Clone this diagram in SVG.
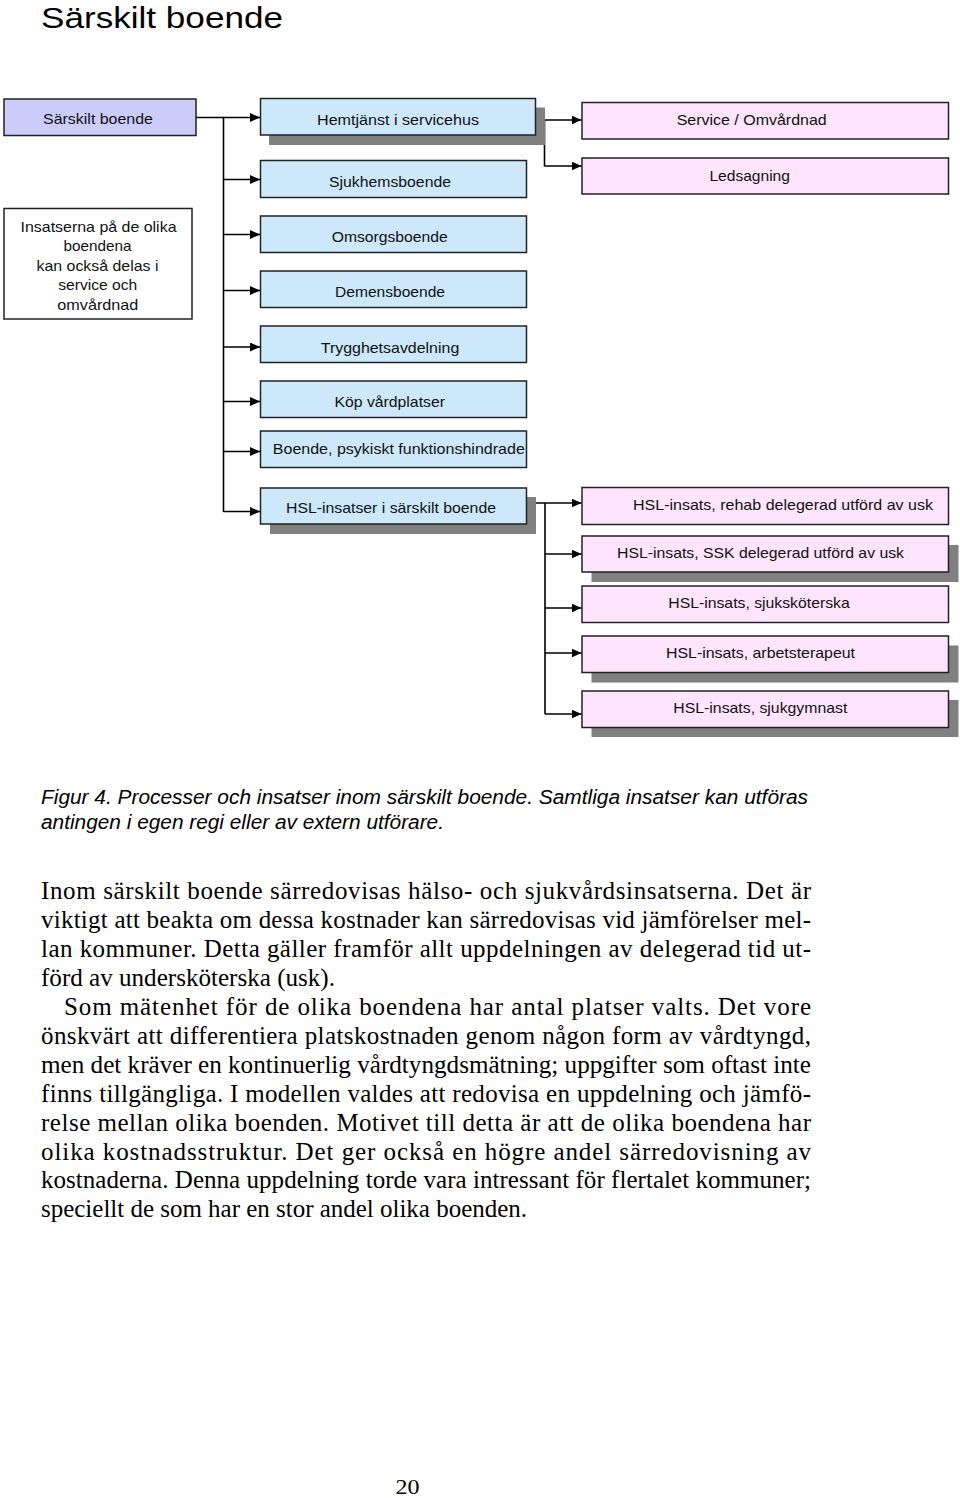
<svg xmlns="http://www.w3.org/2000/svg" width="960" height="1498" viewBox="0 0 960 1498">
<style>
.bg{fill:#ffffff}
.box{stroke:#222;stroke-width:1.5}
.lav{fill:#ccccfb}
.blue{fill:#cce8fa}
.pink{fill:#ffe4fd}
.white{fill:#ffffff}
.sh{fill:#808080}
.lbl{font-family:"Liberation Sans",Arial,sans-serif;font-size:15px;fill:#111;text-anchor:middle}
.con{fill:none;stroke:#000;stroke-width:1.6}
.title{font-family:"Liberation Sans",Arial,sans-serif;font-size:30px;fill:#000}
.cap{font-family:"Liberation Sans",Arial,sans-serif;font-size:20px;font-style:italic;fill:#000}
.body{font-family:"Liberation Serif","Times New Roman",serif;font-size:25px;fill:#000}
</style>
<defs>
<marker id="arr" markerUnits="userSpaceOnUse" markerWidth="11" markerHeight="9" refX="10" refY="4.5" orient="auto">
<path d="M0,0 L10,4.5 L0,9 z" fill="#000"/>
</marker>
</defs>
<rect class="bg" x="0" y="0" width="960" height="1498"/>
<text class="title" x="41" y="28" textLength="242" lengthAdjust="spacingAndGlyphs">Särskilt boende</text>

<g id="connectors">
<path class="con" d="M196,117.5 H223.5 V512"/>
<line class="con" x1="223.5" y1="117.5" x2="260" y2="117.5" marker-end="url(#arr)"/>
<line class="con" x1="223.5" y1="179.5" x2="260" y2="179.5" marker-end="url(#arr)"/>
<line class="con" x1="223.5" y1="234.5" x2="260" y2="234.5" marker-end="url(#arr)"/>
<line class="con" x1="223.5" y1="290.5" x2="260" y2="290.5" marker-end="url(#arr)"/>
<line class="con" x1="223.5" y1="347" x2="260" y2="347" marker-end="url(#arr)"/>
<line class="con" x1="223.5" y1="401.5" x2="260" y2="401.5" marker-end="url(#arr)"/>
<line class="con" x1="223.5" y1="451.5" x2="260" y2="451.5" marker-end="url(#arr)"/>
<line class="con" x1="223.5" y1="511.5" x2="260" y2="511.5" marker-end="url(#arr)"/>
<line class="con" x1="536" y1="120" x2="581.5" y2="120" marker-end="url(#arr)"/>
<path class="con" d="M544.5,120 V166 H581.5" marker-end="url(#arr)"/>
<line class="con" x1="526" y1="503" x2="581.5" y2="503" marker-end="url(#arr)"/>
<path class="con" d="M545,503 V714"/>
<line class="con" x1="545" y1="554" x2="581.5" y2="554" marker-end="url(#arr)"/>
<line class="con" x1="545" y1="608" x2="581.5" y2="608" marker-end="url(#arr)"/>
<line class="con" x1="545" y1="653" x2="581.5" y2="653" marker-end="url(#arr)"/>
<line class="con" x1="545" y1="714" x2="581.5" y2="714" marker-end="url(#arr)"/>
</g>

<g id="n-sarskilt">
<rect class="box lav" x="4" y="99" width="192" height="36.5"/>
<text class="lbl" x="98" y="124" textLength="110" lengthAdjust="spacingAndGlyphs">Särskilt boende</text>
</g>
<g id="n-insatserna">
<rect class="box white" x="4" y="208.5" width="188" height="110.5"/>
<text class="lbl" x="98.5" y="231.5" textLength="156" lengthAdjust="spacingAndGlyphs">Insatserna på de olika</text>
<text class="lbl" x="97.5" y="251" textLength="68" lengthAdjust="spacingAndGlyphs">boendena</text>
<text class="lbl" x="97.5" y="270.5" textLength="122" lengthAdjust="spacingAndGlyphs">kan också delas i</text>
<text class="lbl" x="97.8" y="290" textLength="79" lengthAdjust="spacingAndGlyphs">service och</text>
<text class="lbl" x="97.8" y="309.5" textLength="81" lengthAdjust="spacingAndGlyphs">omvårdnad</text>
</g>
<g id="n-hemtjanst">
<rect class="sh" x="269" y="107.5" width="276" height="37.5"/>
<rect class="box blue" x="260.5" y="98.5" width="275" height="36.5"/>
<text class="lbl" x="398" y="125" textLength="162" lengthAdjust="spacingAndGlyphs">Hemtjänst i servicehus</text>
</g>
<g id="n-sjukhem">
<rect class="box blue" x="260.5" y="160.5" width="266" height="37"/>
<text class="lbl" x="390" y="186.5" textLength="122" lengthAdjust="spacingAndGlyphs">Sjukhemsboende</text>
</g>
<g id="n-omsorg">
<rect class="box blue" x="260.5" y="216" width="266" height="36.5"/>
<text class="lbl" x="389.7" y="241.5" textLength="116" lengthAdjust="spacingAndGlyphs">Omsorgsboende</text>
</g>
<g id="n-demens">
<rect class="box blue" x="260.5" y="271" width="266" height="36.5"/>
<text class="lbl" x="390" y="297" textLength="110" lengthAdjust="spacingAndGlyphs">Demensboende</text>
</g>
<g id="n-trygghet">
<rect class="box blue" x="260.5" y="326" width="266" height="36.5"/>
<text class="lbl" x="390" y="353" textLength="138.5" lengthAdjust="spacingAndGlyphs">Trygghetsavdelning</text>
</g>
<g id="n-kop">
<rect class="box blue" x="260.5" y="381" width="266" height="36.5"/>
<text class="lbl" x="389.7" y="407" textLength="110.5" lengthAdjust="spacingAndGlyphs">Köp vårdplatser</text>
</g>
<g id="n-psyk">
<rect class="box blue" x="260.5" y="431" width="266" height="36.5"/>
<text class="lbl" x="398.8" y="454" textLength="252" lengthAdjust="spacingAndGlyphs">Boende, psykiskt funktionshindrade</text>
</g>
<g id="n-hsl">
<rect class="sh" x="270" y="497" width="266" height="37"/>
<rect class="box blue" x="260.5" y="488" width="266" height="36"/>
<text class="lbl" x="391" y="513" textLength="210" lengthAdjust="spacingAndGlyphs">HSL-insatser i särskilt boende</text>
</g>
<g id="n-service">
<rect class="box pink" x="582" y="102.5" width="366.5" height="36.5"/>
<text class="lbl" x="751.7" y="125" textLength="150" lengthAdjust="spacingAndGlyphs">Service / Omvårdnad</text>
</g>
<g id="n-ledsagning">
<rect class="box pink" x="582" y="158" width="366.5" height="36"/>
<text class="lbl" x="749.7" y="180.5" textLength="80.5" lengthAdjust="spacingAndGlyphs">Ledsagning</text>
</g>
<g id="n-rehab">
<rect class="box pink" x="582" y="487.5" width="366.5" height="37"/>
<text class="lbl" x="783" y="510" textLength="300" lengthAdjust="spacingAndGlyphs">HSL-insats, rehab delegerad utförd av usk</text>
</g>
<g id="n-ssk">
<rect class="sh" x="591.5" y="545" width="367" height="37"/>
<rect class="box pink" x="582" y="536" width="366.5" height="36"/>
<text class="lbl" x="760.5" y="557.5" textLength="287" lengthAdjust="spacingAndGlyphs">HSL-insats, SSK delegerad utförd av usk</text>
</g>
<g id="n-sjukskot">
<rect class="box pink" x="582" y="586" width="366.5" height="36.5"/>
<text class="lbl" x="759" y="608.3" textLength="181.5" lengthAdjust="spacingAndGlyphs">HSL-insats, sjuksköterska</text>
</g>
<g id="n-arbets">
<rect class="sh" x="591.5" y="645.5" width="367" height="37"/>
<rect class="box pink" x="582" y="636" width="366.5" height="36.5"/>
<text class="lbl" x="760.5" y="658.3" textLength="189" lengthAdjust="spacingAndGlyphs">HSL-insats, arbetsterapeut</text>
</g>
<g id="n-sjukgym">
<rect class="sh" x="591.5" y="700" width="367" height="37"/>
<rect class="box pink" x="582" y="691" width="366.5" height="36.5"/>
<text class="lbl" x="760.3" y="713.3" textLength="174" lengthAdjust="spacingAndGlyphs">HSL-insats, sjukgymnast</text>
</g>

<text class="cap" x="41" y="804" textLength="767" lengthAdjust="spacingAndGlyphs">Figur 4. Processer och insatser inom särskilt boende. Samtliga insatser kan utföras</text>
<text class="cap" x="41" y="829" textLength="403" lengthAdjust="spacingAndGlyphs">antingen i egen regi eller av extern utförare.</text>

<g class="body">
<text x="41" y="899" textLength="770" lengthAdjust="spacing">Inom särskilt boende särredovisas hälso- och sjukvårdsinsatserna. Det är</text>
<text x="41" y="928" textLength="770" lengthAdjust="spacing">viktigt att beakta om dessa kostnader kan särredovisas vid jämförelser mel-</text>
<text x="41" y="957" textLength="770" lengthAdjust="spacing">lan kommuner. Detta gäller framför allt uppdelningen av delegerad tid ut-</text>
<text x="41" y="986" textLength="294" lengthAdjust="spacingAndGlyphs">förd av undersköterska (usk).</text>
<text x="64" y="1015" textLength="747" lengthAdjust="spacing">Som mätenhet för de olika boendena har antal platser valts. Det vore</text>
<text x="41" y="1044" textLength="770" lengthAdjust="spacing">önskvärt att differentiera platskostnaden genom någon form av vårdtyngd,</text>
<text x="41" y="1073" textLength="770" lengthAdjust="spacingAndGlyphs">men det kräver en kontinuerlig vårdtyngdsmätning; uppgifter som oftast inte</text>
<text x="41" y="1102" textLength="770" lengthAdjust="spacing">finns tillgängliga. I modellen valdes att redovisa en uppdelning och jämfö-</text>
<text x="41" y="1131" textLength="770" lengthAdjust="spacing">relse mellan olika boenden. Motivet till detta är att de olika boendena har</text>
<text x="41" y="1160" textLength="770" lengthAdjust="spacing">olika kostnadsstruktur. Det ger också en högre andel särredovisning av</text>
<text x="41" y="1188" textLength="770" lengthAdjust="spacing">kostnaderna. Denna uppdelning torde vara intressant för flertalet kommuner;</text>
<text x="41" y="1217" textLength="486" lengthAdjust="spacingAndGlyphs">speciellt de som har en stor andel olika boenden.</text>
</g>
<text class="body" x="395.5" y="1494" textLength="24" lengthAdjust="spacingAndGlyphs" style="font-size:22px">20</text>
</svg>
